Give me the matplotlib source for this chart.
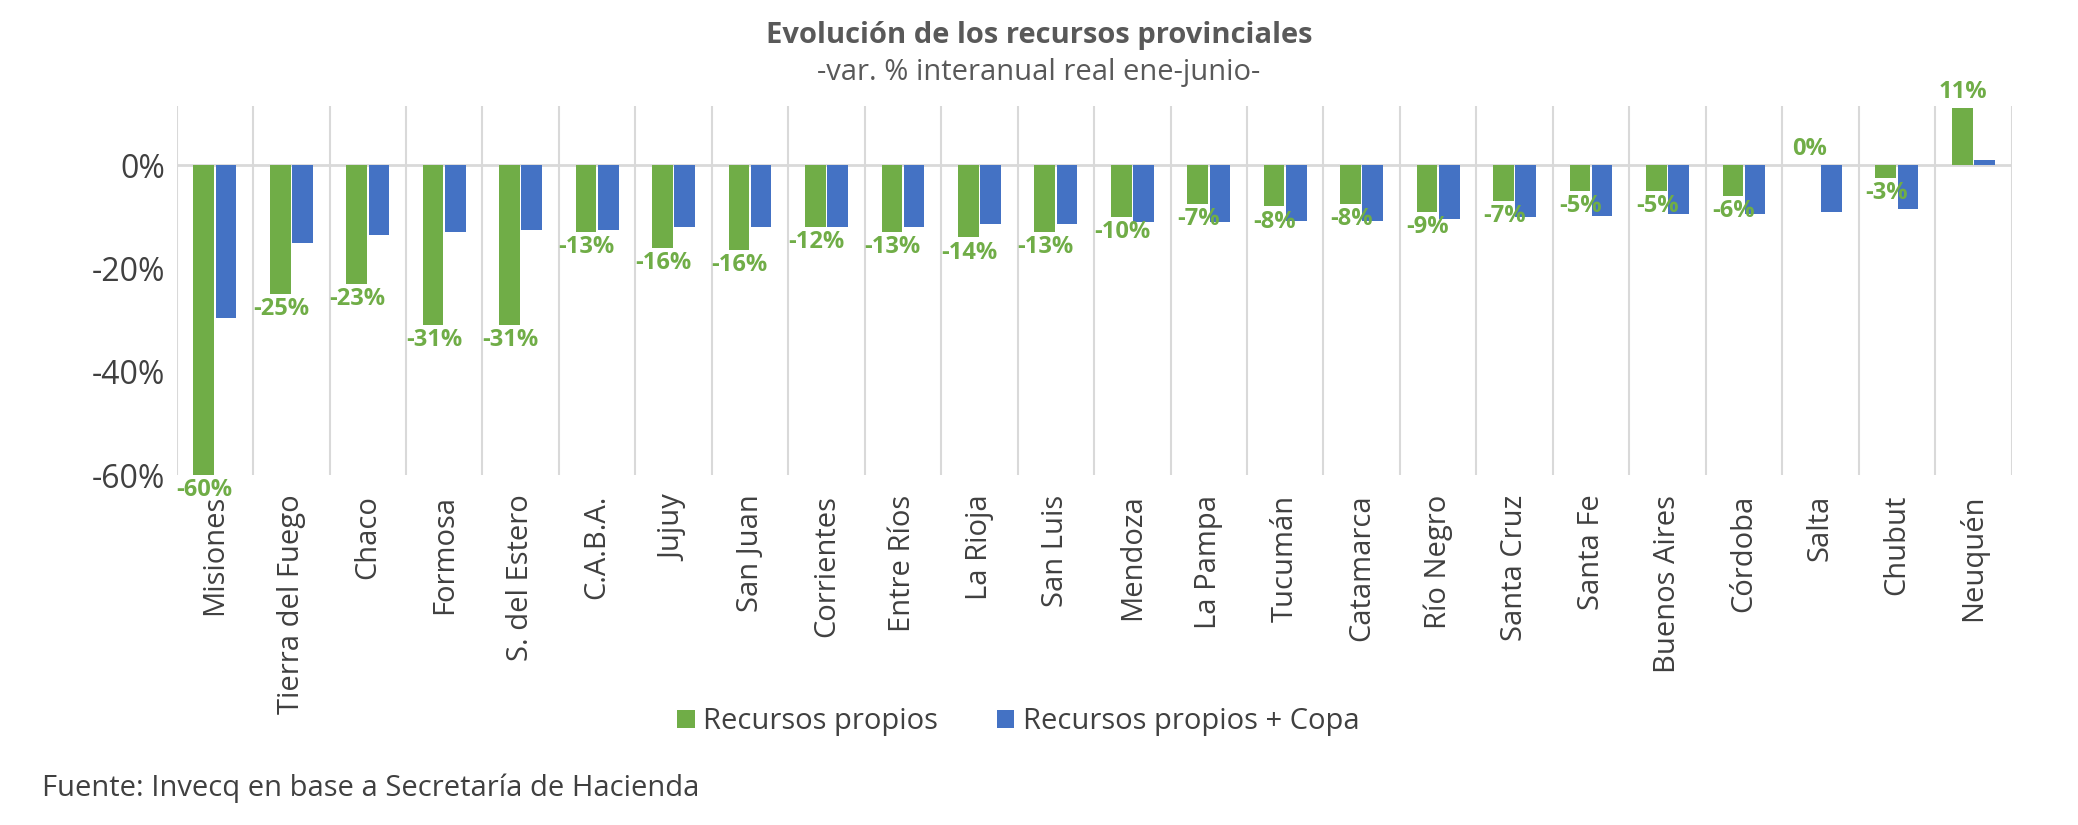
import matplotlib
matplotlib.use("Agg")
import matplotlib.pyplot as plt
import numpy as np

plt.rcParams['font.family'] = ['Open Sans', 'DejaVu Sans']

provincias = ["Misiones", "Tierra del Fuego", "Chaco", "Formosa", "S. del Estero", "C.A.B.A.",
              "Jujuy", "San Juan", "Corrientes", "Entre Ríos", "La Rioja", "San Luis", "Mendoza",
              "La Pampa", "Tucumán", "Catamarca", "Río Negro", "Santa Cruz", "Santa Fe",
              "Buenos Aires", "Córdoba", "Salta", "Chubut", "Neuquén"]
propios = [-60, -25, -23, -31, -31, -13, -16, -16.5, -12, -13, -14, -13, -10, -7.5, -8, -7.5,
           -9, -7, -5, -5, -6, 0, -2.5, 11]
propios_lbl = ["-60%", "-25%", "-23%", "-31%", "-31%", "-13%", "-16%", "-16%", "-12%", "-13%",
               "-14%", "-13%", "-10%", "-7%", "-8%", "-8%", "-9%", "-7%", "-5%", "-5%", "-6%",
               "0%", "-3%", "11%"]
copa = [-29.5, -15, -13.5, -13, -12.5, -12.5, -12, -12, -12, -12, -11.5, -11.5, -11, -11,
        -10.8, -10.8, -10.5, -10, -9.8, -9.5, -9.5, -9, -8.5, 1]

green = "#70AD47"
blue = "#4472C4"
fig = plt.figure(figsize=(20.78, 8.25), dpi=100)
ax = fig.add_axes([0.085, 0.424, 0.883, 0.448])
x = np.arange(len(provincias))
w = 0.27
ax.bar(x - w/2 - 0.01, propios, w, color=green, label="Recursos propios", zorder=3)
ax.bar(x + w/2 + 0.01, copa, w, color=blue, label="Recursos propios + Copa", zorder=3)
for xi, v, l in zip(x, propios, propios_lbl):
    if v >= 0:
        ax.text(xi - w/2, v + 0.8, l, ha='center', va='bottom', color=green, fontsize=17, fontweight='bold', zorder=4)
    else:
        ax.text(xi - w/2, v - 0.6, l, ha='center', va='top', color=green, fontsize=17, fontweight='bold', zorder=4)
ax.set_xlim(-0.5, len(provincias) - 0.5)
ax.set_ylim(-60, 11.5)
ax.set_yticks([0, -20, -40, -60])
ax.set_yticklabels(["0%", "-20%", "-40%", "-60%"], fontsize=23, color="#404040")
ax.set_xticks(x)
ax.set_xticklabels(provincias, rotation=90, fontsize=21, color="#404040")
ax.tick_params(axis='x', length=0, pad=14)
ax.tick_params(axis='y', length=0, pad=8)
for b in np.arange(-0.5, len(provincias), 1):
    ax.axvline(b, color="#d9d9d9", lw=1.5, zorder=1)
ax.axhline(0, color="#d9d9d9", lw=2, zorder=2)
for s in ax.spines.values():
    s.set_visible(False)
fig.text(0.5, 0.975, "Evolución de los recursos provinciales", ha='center', va='top',
         fontsize=21, fontweight='bold', color="#595959")
fig.text(0.5, 0.93, "-var. % interanual real ene-junio-", ha='center', va='top',
         fontsize=21, color="#595959")
fig.legend(loc='center', bbox_to_anchor=(0.49, 0.125), ncol=2, frameon=False, fontsize=21,
           handlelength=0.6, handleheight=0.6, columnspacing=2, handletextpad=0.3,
           labelcolor="#404040")
fig.text(0.02, 0.035, "Fuente: Invecq en base a Secretaría de Hacienda", fontsize=21, color="#404040")
fig.savefig("out.png", dpi=100)
